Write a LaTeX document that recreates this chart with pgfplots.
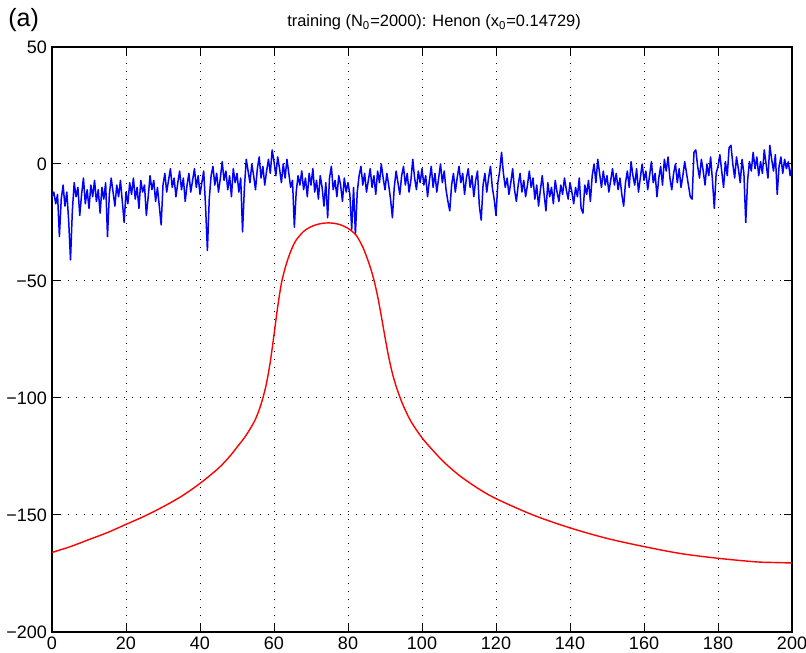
\documentclass[border=0pt]{standalone}
\usepackage{fontspec}
\setmainfont{Liberation Sans}
\usepackage{pgfplots}
\pgfplotsset{compat=1.18}
\begin{document}
\begin{tikzpicture}
\path[use as bounding box] (-26pt,-10pt) rectangle (377pt,316pt);
\begin{axis}[
  scale only axis,
  width=370pt, height=292.5pt,
  xmin=0, xmax=200, ymin=-200, ymax=50,
  xtick={0,20,...,200},
  ytick={-200,-150,-100,-50,0,50},
  yticklabels={−200,−150,−100,−50,0,50},
  tick pos=both, tick align=inside,
  major tick length=4pt,
  tick style={black, line width=0.5pt},
  axis line style={black, line width=0.6pt},
  grid=major,
  major grid style={black, line width=0.5pt, dash pattern=on 0.5pt off 3.5pt},
  /pgf/number format/assume math mode=true,
  tick label style={font=\fontsize{9}{10}\selectfont},
  xticklabel style={yshift=1pt},
  yticklabel style={xshift=1pt},
  title={training (N\textsubscript{0}=2000): Henon (x\textsubscript{0}=0.14729)},
  title style={font=\fontsize{8.2}{10}\selectfont, at={(0.5,1)}, anchor=south, yshift=-1pt, xshift=6pt},
  clip=true,
]
\addplot[color={rgb,255:red,0;green,0;blue,255}, line width=0.75pt, line join=round] coordinates {
(0,-14)(0.5,-12)(1,-17)(1.5,-13)(2,-31)(2.5,-15)(3,-9)(3.5,-18)(4,-12)(4.5,-24)(5,-41)(5.5,-20)(6,-8)(6.5,-14)(7,-10)(7.5,-22)(8,-13)(8.5,-6)(9,-17)(9.5,-11)
(10,-19)(10.5,-9)(11,-14)(11.5,-7)(12,-16)(12.5,-11)(13,-21)(13.5,-10)(14,-15)(14.5,-8)(15,-31)(15.5,-13)(16,-6)(16.5,-12)(17,-18)(17.5,-9)(18,-14)(18.5,-7)(19,-16)(19.5,-25)
(20,-12)(20.5,-17)(21,-8)(21.5,-13)(22,-6)(22.5,-15)(23,-10)(23.5,-19)(24,-7)(24.5,-12)(25,-9)(25.5,-22)(26,-14)(26.5,-5)(27,-11)(27.5,-7)(28,-16)(28.5,-10)(29,-18)(29.5,-26)
(30,-9)(30.5,-4)(31,-12)(31.5,-7)(32,-2)(32.5,-10)(33,-6)(33.5,-14)(34,-8)(34.5,-3)(35,-11)(35.5,-6)(36,-16)(36.5,-9)(37,-4)(37.5,-12)(38,-7)(38.5,-2)(39,-10)(39.5,-5)
(40,-13)(40.5,-8)(41,-3)(41.5,-18)(42,-37)(42.5,-15)(43,-5)(43.5,-1)(44,-9)(44.5,-4)(45,-12)(45.5,-6)(46,1)(46.5,-7)(47,-3)(47.5,-11)(48,-5)(48.5,-14)(49,-2)(49.5,-8)
(50,-4)(50.5,-12)(51,-6)(51.5,-29)(52,-10)(52.5,2)(53,-3)(53.5,-8)(54,0)(54.5,-5)(55,-11)(55.5,-2)(56,3)(56.5,-6)(57,-1)(57.5,-9)(58,-3)(58.5,2)(59,-4)(59.5,6)
(60,1)(60.5,-5)(61,3)(61.5,-2)(62,-8)(62.5,0)(63,-6)(63.5,2)(64,-4)(64.5,-10)(65,-7)(65.5,-27)(66,-12)(66.5,-5)(67,-9)(67.5,-3)(68,-11)(68.5,-6)(69,-14)(69.5,-4)
(70,-9)(70.5,-2)(71,-12)(71.5,-7)(72,-15)(72.5,-5)(73,-10)(73.5,-18)(74,-8)(74.5,-23)(75,-6)(75.5,-1)(76,-11)(76.5,-7)(77,-14)(77.5,-5)(78,-9)(78.5,-16)(79,-6)(79.5,-12)
(80,-8)(80.5,-13)(81,-28)(81.5,-10)(82,-30)(82.5,-12)(83,-5)(83.5,-1)(84,-9)(84.5,-4)(85,-12)(85.5,-7)(86,-2)(86.5,-10)(87,-5)(87.5,-13)(88,-3)(88.5,-8)(89,0)(89.5,-6)
(90,-11)(90.5,-4)(91,-9)(91.5,-15)(92,-23)(92.5,-10)(93,-3)(93.5,-8)(94,-13)(94.5,-5)(95,-1)(95.5,-9)(96,-4)(96.5,-12)(97,-7)(97.5,2)(98,-6)(98.5,-11)(99,-3)(99.5,-8)
(100,-2)(100.5,-9)(101,-5)(101.5,-14)(102,-7)(102.5,-1)(103,-10)(103.5,-4)(104,-12)(104.5,-6)(105,0)(105.5,-8)(106,-3)(106.5,-11)(107,-16)(107.5,-20)(108,-9)(108.5,-4)(109,-12)(109.5,-6)
(110,-1)(110.5,-8)(111,-4)(111.5,-13)(112,-6)(112.5,-2)(113,-10)(113.5,-5)(114,-14)(114.5,-7)(115,-3)(115.5,-18)(116,-24)(116.5,-9)(117,-4)(117.5,-12)(118,-6)(118.5,-1)(119,-10)(119.5,-15)
(120,-22)(120.5,-8)(121,-3)(121.5,5)(122,-4)(122.5,-10)(123,-6)(123.5,-13)(124,-8)(124.5,-2)(125,-11)(125.5,-16)(126,-9)(126.5,-4)(127,-12)(127.5,-7)(128,-14)(128.5,-9)(129,-3)(129.5,-10)
(130,-6)(130.5,-15)(131,-9)(131.5,-18)(132,-11)(132.5,-5)(133,-13)(133.5,-20)(134,-8)(134.5,-14)(135,-10)(135.5,-17)(136,-7)(136.5,-12)(137,-16)(137.5,-9)(138,-13)(138.5,-6)(139,-11)(139.5,-15)
(140,-8)(140.5,-12)(141,-17)(141.5,-10)(142,-14)(142.5,-6)(143,-19)(143.5,-21)(144,-9)(144.5,-13)(145,-7)(145.5,-16)(146,-5)(146.5,0)(147,-8)(147.5,2)(148,-4)(148.5,-10)(149,-3)(149.5,-9)
(150,-5)(150.5,-12)(151,-7)(151.5,-2)(152,-9)(152.5,-4)(153,-11)(153.5,-6)(154,-13)(154.5,-18)(155,-8)(155.5,-3)(156,-10)(156.5,1)(157,-5)(157.5,-9)(158,-2)(158.5,-12)(159,-6)(159.5,0)
(160,-7)(160.5,-3)(161,-11)(161.5,-5)(162,1)(162.5,-8)(163,-4)(163.5,-14)(164,-6)(164.5,-1)(165,-9)(165.5,2)(166,-3)(166.5,3)(167,-6)(167.5,-11)(168,-4)(168.5,0)(169,-8)(169.5,-2)
(170,-10)(170.5,-5)(171,1)(171.5,-4)(172,-9)(172.5,-14)(173,-15)(173.5,5)(174,6)(174.5,-1)(175,-6)(175.5,2)(176,-3)(176.5,-9)(177,0)(177.5,-5)(178,3)(178.5,-7)(179,-19)(179.5,-4)
(180,-1)(180.5,4)(181,-3)(181.5,-10)(182,1)(182.5,-5)(183,7)(183.5,8)(184,0)(184.5,-6)(185,3)(185.5,-2)(186,-8)(186.5,2)(187,-4)(187.5,-25)(188,-7)(188.5,1)(189,-3)(189.5,5)
(190,-2)(190.5,3)(191,-5)(191.5,1)(192,-4)(192.5,6)(193,0)(193.5,-6)(194,8)(194.5,2)(195,-3)(195.5,4)(196,-13)(196.5,-1)(197,3)(197.5,-4)(198,2)(198.5,-2)(199,1)(199.5,-5)(200,-1)
};
\addplot[color={rgb,255:red,255;green,0;blue,0}, line width=0.7pt, smooth] coordinates {
(0,-166)(5,-163.5)(10,-160.5)(15,-157.5)(20,-154)(25,-150.5)(30,-146.5)(35,-142)(40,-136.5)(45,-130)(48,-125)(50,-121)(52,-117)(54,-112)(55,-109)(56,-105)(57,-100)(58,-93.5)(59,-84.5)(60,-73)(61,-61)(62,-51)(63,-44.5)(64,-39.5)(65,-35.5)(66,-32.5)(68,-28.8)(70,-26.8)(72,-25.7)(74,-25.2)(76,-25.3)(78,-26)(80,-27.5)(82,-30)(83,-32.5)(84,-35.5)(85,-39.5)(86,-44)(87,-49.5)(88,-56.5)(89,-65)(90,-74)(91,-82.5)(92,-89.5)(93,-95)(94,-99.5)(95,-103.5)(97,-110)(100,-117)(103,-122.5)(106,-127.5)(110,-133)(115,-138.5)(120,-143)(130,-150)(140,-155.5)(150,-160)(160,-163.5)(170,-166.5)(180,-168.5)(190,-170)(195,-170.3)(200,-170.5)
};
\end{axis}
\node[anchor=north west, font=\fontsize{12.5}{13}\selectfont, inner sep=0pt] at (-22pt,312pt) {(a)};
\end{tikzpicture}
\end{document}
